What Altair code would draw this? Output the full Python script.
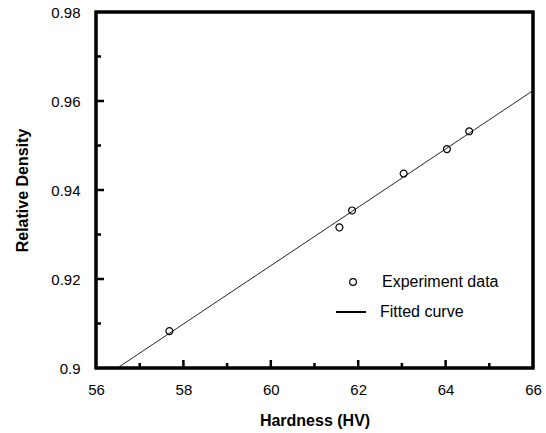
import altair as alt
import pandas as pd

hardness = [57.68, 61.57, 61.86, 63.04, 64.03, 64.54]
density = [0.9083, 0.9316, 0.9354, 0.9437, 0.9492, 0.9532]
x_labels = [56, 58, 60, 62, 64, 66]
y_labels = [0.90, 0.92, 0.94, 0.96, 0.98]
x_major = [58, 60, 62, 64]
x_minor = [57, 59, 61, 63, 65]
y_major = [0.92, 0.94, 0.96]
y_minor = [0.91, 0.93, 0.95, 0.97]

W, H = 437, 356
FONT = "Liberation Sans"

xscale = alt.Scale(domain=[56, 66], nice=False, zero=False)
yscale = alt.Scale(domain=[0.9, 0.98], nice=False, zero=False)

xaxis = alt.Axis(values=x_labels, format="d", title="Hardness (HV)", tickSize=0,
                 domain=False, grid=False, labelFont=FONT, labelFontSize=15,
                 labelColor="black", labelPadding=14, labelFlush=False,
                 labelOverlap=False, titleFont=FONT, titleFontSize=16,
                 titleFontWeight="bold", titleColor="black", titlePadding=15)
yaxis = alt.Axis(values=y_labels, format=".2~f", title="Relative Density", tickSize=0,
                 domain=False, grid=False, labelFont=FONT, labelFontSize=15,
                 labelColor="black", labelPadding=16, labelFlush=False,
                 labelOverlap=False, titleFont=FONT, titleFontSize=16,
                 titleFontWeight="bold", titleColor="black", titlePadding=20)

df = pd.DataFrame({"x": hardness, "y": density, "series": ["Experiment data"] * len(hardness)})

X = alt.X("x:Q", scale=xscale, axis=xaxis)
Y = alt.Y("y:Q", scale=yscale, axis=yaxis)

points = alt.Chart(df).mark_point(filled=False, color="black", size=48, strokeWidth=1.2, opacity=1).encode(
    x=X, y=Y,
    shape=alt.Shape("series:N", scale=alt.Scale(range=["circle"]),
                    legend=alt.Legend(orient="none", legendX=249, legendY=262, title=None,
                                      labelFont=FONT, labelFontSize=16, labelColor="black",
                                      symbolSize=45, symbolStrokeColor="black",
                                      symbolStrokeWidth=1.2, labelOffset=21)),
)

line = alt.Chart(df).transform_regression("x", "y", extent=[56, 66]).transform_calculate(
    fit="'Fitted curve'"
).mark_line(color="black", strokeWidth=1, clip=True).encode(
    x=X, y=Y,
    strokeDash=alt.StrokeDash("fit:N", scale=alt.Scale(range=[[1, 0]]),
                              legend=alt.Legend(orient="none", legendX=239, legendY=284, title=None,
                                                labelFont=FONT, labelFontSize=16, labelColor="black",
                                                symbolSize=900, symbolStrokeColor="black",
                                                symbolStrokeWidth=2, labelOffset=13)),
)

def xticks(vals, length, sw):
    return alt.Chart(pd.DataFrame({"x": vals})).mark_rule(color="black", strokeWidth=sw).encode(
        x=X, y=alt.value(H), y2=alt.value(H - length))

def yticks(vals, length, sw):
    return alt.Chart(pd.DataFrame({"y": vals})).mark_rule(color="black", strokeWidth=sw).encode(
        y=Y, x=alt.value(0), x2=alt.value(length))

frame = alt.Chart(pd.DataFrame({"f": [0]})).mark_rect(
    fillOpacity=0, stroke="black", strokeWidth=3
).encode(x=alt.value(0), x2=alt.value(W), y=alt.value(0), y2=alt.value(H))

chart = alt.layer(
    xticks(x_major, 8, 2.5), xticks(x_minor, 5, 2.5),
    yticks(y_major, 8, 2.5), yticks(y_minor, 5, 2.5),
    line, points, frame,
).properties(
    width=W, height=H, autosize="none",
    padding={"left": 96, "top": 12, "right": 13, "bottom": 65},
    background="white",
).configure_view(stroke="black", strokeWidth=3)

chart.save("out.html", embed_options={"renderer": "svg", "actions": False})
